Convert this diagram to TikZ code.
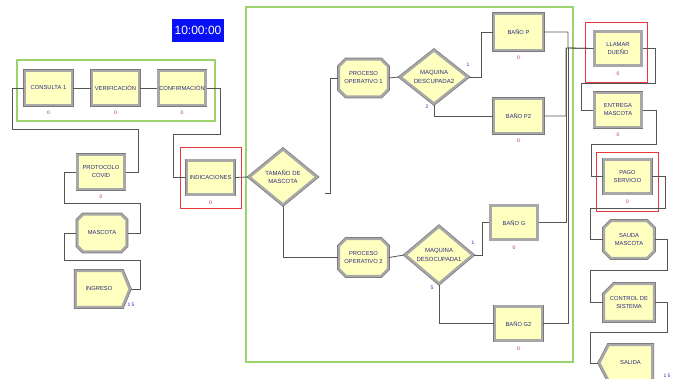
\documentclass[tikz,border=0pt]{standalone}
\usepackage{fontspec}
\setmainfont{Liberation Sans}
\usetikzlibrary{shapes.geometric,shapes.misc,shapes.symbols}
\definecolor{boxfill}{HTML}{FFFFC0}
\definecolor{frame}{HTML}{A8A8A8}
\definecolor{frameout}{HTML}{7A7A7A}
\definecolor{txt}{HTML}{2B2B80}
\definecolor{zerocol}{HTML}{B03030}
\definecolor{tagcol}{HTML}{2030C0}
\definecolor{grn}{HTML}{9BD46B}
\definecolor{redb}{HTML}{E8383C}
\definecolor{conncol}{HTML}{555555}
\definecolor{timercol}{HTML}{0A10F5}
\tikzset{
  mod/.style={fill=boxfill, draw=frame, line width=2.4pt,
    preaction={draw=frameout, line width=3.8pt},
    font=\fontsize{5.8}{8}\selectfont, text=txt, align=center, inner sep=0pt},
  proc/.style={mod, rectangle, minimum width=47pt, minimum height=34pt},
  octa/.style={mod, chamfered rectangle, chamfered rectangle xsep=3.5pt,
    chamfered rectangle ysep=3.5pt,
    minimum width=49pt, minimum height=37pt},
  decide/.style={mod, diamond, minimum width=68pt, minimum height=56pt,
    font=\fontsize{6}{8.5}\selectfont},
  zerolab/.style={font=\fontsize{5}{5}\selectfont, text=zerocol, inner sep=0pt},
  tag/.style={font=\fontsize{5}{5}\selectfont, text=tagcol, inner sep=0pt},
  conn/.style={draw=conncol, line width=0.8pt},
  grnbox/.style={draw=grn, line width=1.2pt},
  redbox/.style={draw=redb, line width=1pt},
  with0/.style={label={[zerolab, label distance=5pt]below:0}}
}
\begin{document}
\begin{tikzpicture}[x=1pt, y=-1pt]
\useasboundingbox (0,0) rectangle (679,379);
\fill[white] (0,0) rectangle (679,379);

% frames
\draw[grnbox] (17,60) rectangle (215,121);
\draw[grnbox] (246,7) rectangle (573,362);
\draw[redbox] (180,148) rectangle (241,209);
\draw[redbox] (585,23) rectangle (647,83);
\draw[redbox] (596,153) rectangle (658,212);

% timer
\node[fill=timercol, text=white, font=\fontsize{12}{12}\selectfont,
  minimum width=52pt, minimum height=23pt, inner sep=0pt] (timer) at (198,30.5) {10:00:00};

% left group
\node[proc, with0] (consulta) at (48.5,88) {CONSULTA 1};
\node[proc, with0] (verif) at (115.5,88) {VERIFICACIÓN};
\node[proc, with0] (confirm) at (182,88) {CONFIRMACIÓN};
\node[proc, with0] (protocolo) at (101,172) {PROTOCOLO\\COVID};
\node[octa] (mascota) at (102,233) {MASCOTA};
\node[mod, signal, signal to=east, signal pointer angle=135,
  minimum width=54pt, minimum height=36pt] (ingreso) at (99,289) {INGRESO};
\node[tag] (ingresoq) at (131,305) {1 5};

\node[proc, with0] (indic) at (210.5,177.5) {INDICACIONES};

% middle
\node[decide] (tamano) at (283,177) {TAMAÑO DE\\MASCOTA};
\coordinate (tamexit) at (325,193);
\node[octa] (proc1) at (363.5,78) {PROCESO\\OPERATIVO 1};
\node[octa] (proc2) at (363.5,257.5) {PROCESO\\OPERATIVO 2};
\node[decide, minimum height=54pt] (md2) at (434,77) {MAQUINA\\DESCUPADA2};
\node[decide] (md1) at (439,255) {MAQUINA\\DESOCUPADA1};
\node[tag] (md2a) at (468,65) {1};
\node[tag] (md2b) at (427,107) {2};
\node[tag] (md1a) at (473,243) {1};
\node[tag] (md1b) at (432,288) {5};

\node[proc, with0, minimum width=49pt, minimum height=36pt] (banoP) at (518.5,32) {BAÑO P};
\node[proc, with0, minimum width=49pt] (banoP2) at (518.5,116) {BAÑO P2};
\node[proc, with0] (banoG) at (514,222.5) {BAÑO G};
\node[proc, with0] (banoG2) at (518.5,323.5) {BAÑO G2};

% right column
\node[proc, with0] (llamar) at (618,48.5) {LLAMAR\\DUEÑO};
\node[proc, with0] (entrega) at (618,110) {ENTREGA\\MASCOTA};
\node[proc, with0] (pago) at (627.5,176.5) {PAGO\\SERVICIO};
\node[octa, minimum width=50pt] (saluda) at (629,239.5) {SAUDA\\MASCOTA};
\node[mod, chamfered rectangle, chamfered rectangle corners=north west,
  chamfered rectangle xsep=5pt, chamfered rectangle ysep=5pt,
  minimum width=50pt, minimum height=37pt] (control) at (629,302.5) {CONTROL DE\\SISTEMA};
\node[mod, signal, signal to=west, signal pointer angle=125,
  minimum width=53pt, minimum height=36pt] (salida) at (630.5,363) {SALIDA};
\node[tag] (salidaq) at (667,376) {1 5};

% connectors
\draw[conn] (ingreso.east) -- (140,289) -- (140,260) -- (64,260) |- (mascota.west);
\draw[conn] (mascota.east) -| (140,203) -- (64,203) |- (protocolo.west);
\draw[conn] (protocolo.east) -| (138,129) -- (12,129) |- (consulta.west);
\draw[conn] (consulta.east) -- (verif.west);
\draw[conn] (verif.east) -- (confirm.west);
\draw[conn] (confirm.east) -| (220,134) -- (173,134) |- (indic.west);
\draw[conn] (indic.east) -- (tamano.west);
\draw[conn] (tamexit) -- (330,193) |- (proc1.west);
\draw[conn] (tamano.south) |- (proc2.west);
\draw[conn] (proc1.east) -- (md2.west);
\draw[conn] (md2.east) -- (481,77) |- (banoP.west);
\draw[conn] (md2.south) |- (banoP2.west);
\draw[conn] (proc2.east) -- (md1.west);
\draw[conn] (md1.east) -- (482,255) |- (banoG.west);
\draw[conn] (md1.south) |- (banoG2.west);
\draw[conn] (banoP.east) -| (568,48) -- (llamar.west);
\draw[conn] (banoP2.east) -| (566,48) -- (llamar.west);
\draw[conn] (banoG.east) -| (566,48);
\draw[conn] (banoG2.east) -| (568,48);
\draw[conn] (llamar.east) -| (655,83) -- (581,83) |- (entrega.west);
\draw[conn] (entrega.east) -| (656,144) -- (591,144) |- (pago.west);
\draw[conn] (pago.east) -| (665,208) -- (590,208) |- (saluda.west);
\draw[conn] (saluda.east) -| (667,270) -- (590,270) |- (control.west);
\draw[conn] (control.east) -| (667,332) -- (590,332) |- (salida.west);
\end{tikzpicture}
\end{document}
